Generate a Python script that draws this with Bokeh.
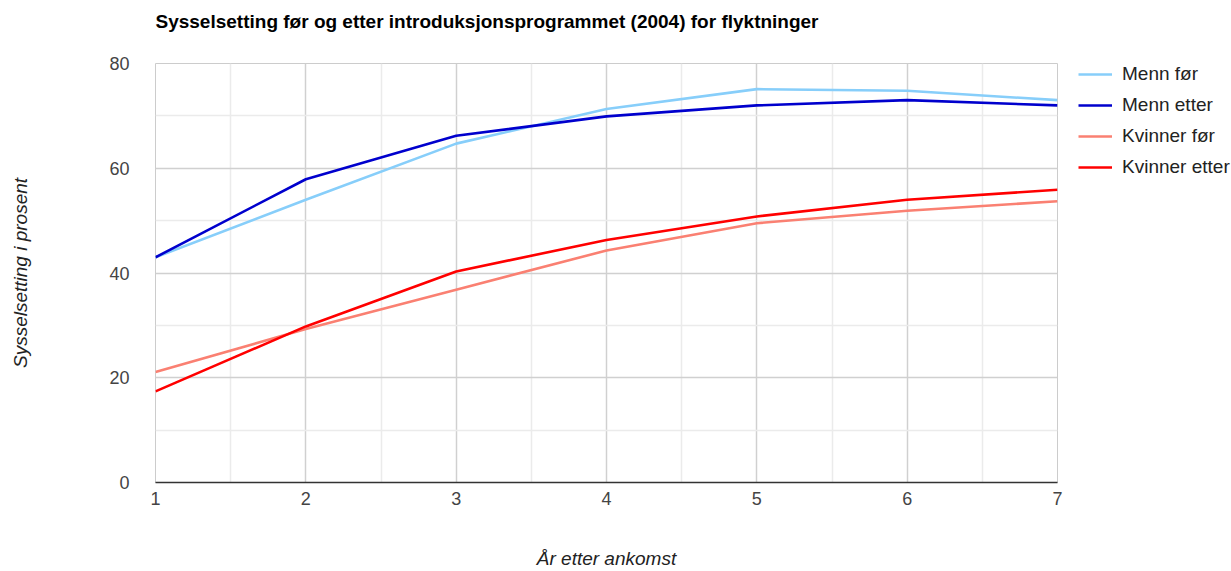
from bokeh.plotting import figure
from bokeh.layouts import row
from bokeh.models import FixedTicker, Legend, LegendItem, Range1d
from bokeh.embed import file_html
from bokeh.resources import INLINE

years = [1, 2, 3, 4, 5, 6, 7]
menn_for = [43.0, 54.0, 64.7, 71.3, 75.1, 74.8, 73.0]
menn_etter = [43.0, 57.9, 66.2, 69.9, 72.0, 73.0, 72.0]
kvinner_for = [21.1, 29.3, 36.8, 44.3, 49.5, 51.9, 53.7]
kvinner_etter = [17.4, 29.8, 40.3, 46.3, 50.8, 54.0, 55.9]
x_ticks = [1, 2, 3, 4, 5, 6, 7]
y_ticks = [0, 20, 40, 60, 80]

series = [
    ("Menn før", menn_for, "#87cefa"),
    ("Menn etter", menn_etter, "#0000cd"),
    ("Kvinner før", kvinner_for, "#fa8072"),
    ("Kvinner etter", kvinner_etter, "#ff0000"),
]

FONT = "Liberation Sans"

p = figure(width=1067, height=571, output_backend="svg", toolbar_location=None,
           x_range=Range1d(1, 7), y_range=Range1d(0, 80),
           min_border_left=155, min_border_right=10, min_border_top=63,
           min_border_bottom=89,
           title="Sysselsetting før og etter introduksjonsprogrammet (2004) for flyktninger\n ")

p.title.text_font = FONT
p.title.text_font_size = "19px"
p.title.text_font_style = "bold"
p.title.text_color = "#000000"
p.title.text_line_height = 1.25
p.title.offset = 0

p.outline_line_color = "#cccccc"
p.outline_line_width = 1

p.xaxis.ticker = FixedTicker(ticks=x_ticks, minor_ticks=[1.5, 2.5, 3.5, 4.5, 5.5, 6.5])
p.yaxis.ticker = FixedTicker(ticks=y_ticks, minor_ticks=[10, 30, 50, 70])

for ax in (p.xaxis[0], p.yaxis[0]):
    ax.major_tick_line_color = None
    ax.minor_tick_line_color = None
    ax.major_label_text_font = FONT
    ax.major_label_text_font_size = "18px"
    ax.major_label_text_color = "#444444"
    ax.axis_label_text_font = FONT
    ax.axis_label_text_font_size = "19px"
    ax.axis_label_text_font_style = "italic"
    ax.axis_label_text_color = "#222222"

p.xaxis.axis_line_color = "#333333"
p.xaxis.axis_line_width = 1.5
p.yaxis.axis_line_color = None
p.xaxis.major_label_standoff = 3
p.yaxis.major_label_standoff = 20
p.xaxis.axis_label = "År etter ankomst"
p.yaxis.axis_label = "Sysselsetting i prosent"
p.xaxis.axis_label_standoff = 40
p.yaxis.axis_label_standoff = 75

for g in (p.xgrid[0], p.ygrid[0]):
    g.grid_line_color = "#d0d0d0"
    g.grid_line_width = 1.5
    g.minor_grid_line_color = "#ebebeb"
    g.minor_grid_line_width = 1.5

for name, vals, color in series:
    p.line(years, vals, line_color=color, line_width=2.6)

# Legend lives in a narrow companion figure to the right of the chart.
# Its proxy lines sit outside the visible range so only the legend shows.
lg = figure(width=164, height=571, output_backend="svg", toolbar_location=None,
            x_axis_location=None, y_axis_location=None,
            x_range=Range1d(0, 1), y_range=Range1d(0, 1),
            min_border_left=0, min_border_right=0, min_border_top=0,
            min_border_bottom=0)
lg.outline_line_color = None
lg.xgrid.visible = False
lg.ygrid.visible = False

items = []
for name, vals, color in series:
    r = lg.line([-10, -9], [-10, -10], line_color=color, line_width=2.6)
    items.append(LegendItem(label=name, renderers=[r]))

legend = Legend(items=items, location=(11, 304), orientation="vertical",
                padding=0, margin=0, spacing=9, glyph_width=34, glyph_height=22,
                label_height=22, label_standoff=10,
                label_text_font=FONT, label_text_font_size="19px",
                label_text_color="#222222",
                border_line_color=None, background_fill_alpha=0)
lg.add_layout(legend, "center")

layout = row(p, lg, spacing=0)
open("out.html", "w").write(file_html(layout, INLINE))
